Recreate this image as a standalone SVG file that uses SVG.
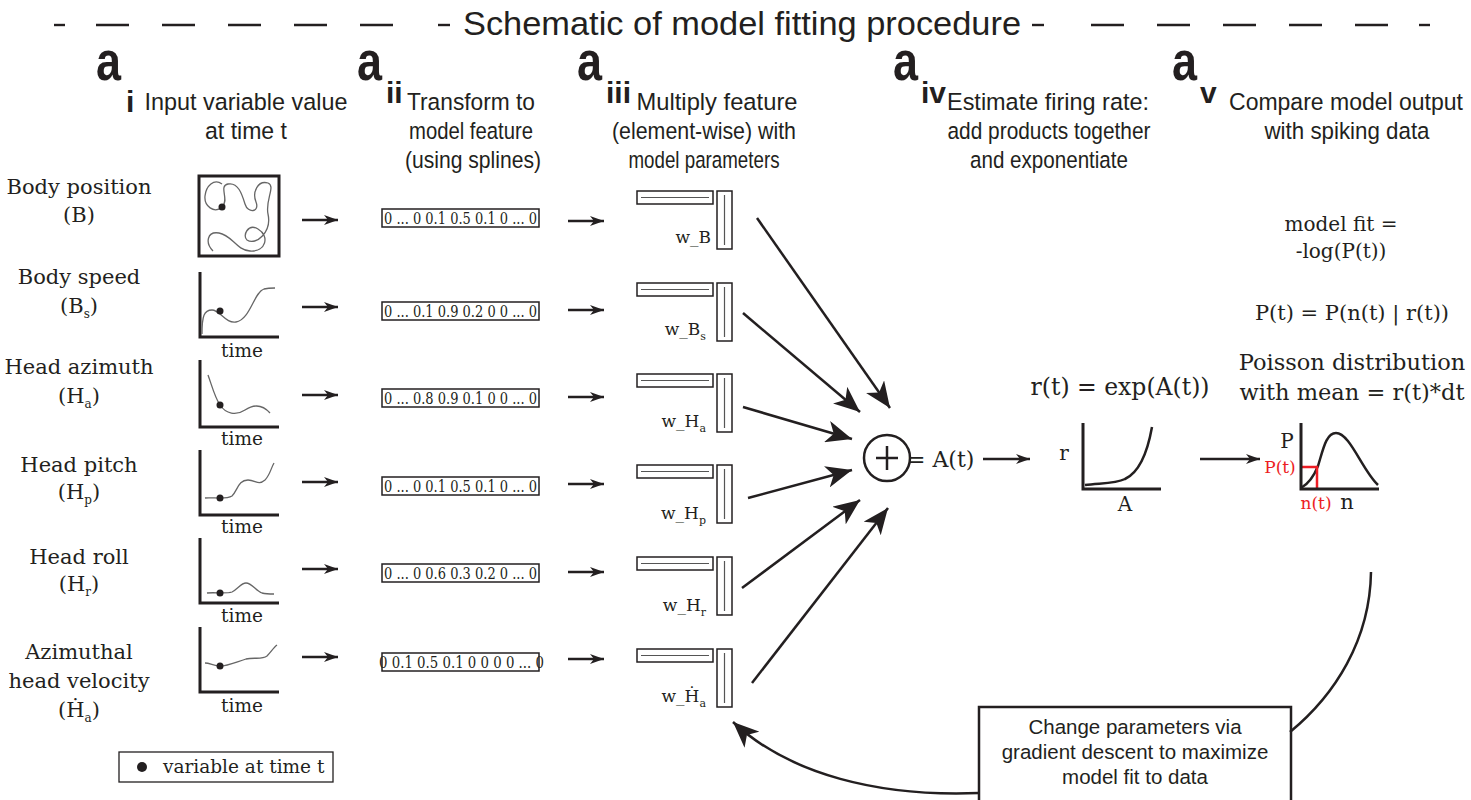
<svg xmlns="http://www.w3.org/2000/svg" width="1471" height="800" viewBox="0 0 1471 800">
<defs>
<style>
.sans{font-family:"Liberation Sans",Arial,sans-serif;fill:#231f20}
.serif{font-family:"DejaVu Serif","Liberation Serif",serif;fill:#231f20}
.hd{font-size:24.5px;text-anchor:middle}
.lab{font-size:21px;text-anchor:middle}
.tm{font-size:18.5px;text-anchor:middle}
.vec{font-size:17px}
.wl{font-size:17px;text-anchor:end}
.big{font-weight:bold;font-size:56px}
.sub{font-weight:bold;font-size:30px}
.dash{stroke:#231f20;stroke-width:2.4}
.ln{stroke:#231f20;stroke-width:2.5;fill:none}
.ax{stroke:#231f20;stroke-width:3;fill:none}
.cv{stroke:#666;stroke-width:1.3;fill:none}
.bx{fill:#fff;stroke:#231f20;stroke-width:1.5}
.il{stroke:#555;stroke-width:1.2}
.red{fill:#ed1c24}
.fb{font-size:20.5px;text-anchor:middle}
</style>
<marker id="ahs" viewBox="0 0 14 10" refX="14" refY="5" markerWidth="14" markerHeight="10" markerUnits="userSpaceOnUse" orient="auto">
<path d="M0,0 L14,5 L0,10 L4,5 Z" fill="#231f20"/>
</marker>
<marker id="ahb" viewBox="0 0 26 22" refX="26" refY="11" markerWidth="26" markerHeight="22" markerUnits="userSpaceOnUse" orient="auto">
<path d="M0,0 L26,11 L0,22 L7,11 Z" fill="#231f20"/>
</marker>
<g id="wbar">
<rect class="bx" x="0" y="0" width="76" height="13"/>
<line class="il" x1="4" y1="6.5" x2="72" y2="6.5"/>
<rect class="bx" x="80" y="0" width="15" height="58"/>
<line class="il" x1="87.5" y1="4" x2="87.5" y2="54"/>
</g>
</defs>
<rect width="1471" height="800" fill="#fff"/>

<g id="title">
<line class="dash" x1="54" y1="25" x2="65" y2="25"/>
<line class="dash" x1="96" y1="25" x2="129" y2="25"/>
<line class="dash" x1="162" y1="25" x2="195" y2="25"/>
<line class="dash" x1="228" y1="25" x2="261" y2="25"/>
<line class="dash" x1="294" y1="25" x2="327" y2="25"/>
<line class="dash" x1="360" y1="25" x2="393" y2="25"/>
<line class="dash" x1="438" y1="25" x2="450" y2="25"/>
<text class="sans" x="742" y="35" font-size="33" text-anchor="middle" textLength="558" lengthAdjust="spacingAndGlyphs">Schematic of model fitting procedure</text>
<line class="dash" x1="1032" y1="25" x2="1044" y2="25"/>
<line class="dash" x1="1091" y1="25" x2="1124" y2="25"/>
<line class="dash" x1="1157" y1="25" x2="1190" y2="25"/>
<line class="dash" x1="1223" y1="25" x2="1256" y2="25"/>
<line class="dash" x1="1289" y1="25" x2="1322" y2="25"/>
<line class="dash" x1="1355" y1="25" x2="1388" y2="25"/>
<line class="dash" x1="1419" y1="25" x2="1430" y2="25"/>
</g>

<g id="head-i">
<text class="sans big" x="96" y="80" textLength="25" lengthAdjust="spacingAndGlyphs">a</text>
<text class="sans sub" x="126" y="112" font-size="34">i</text>
<text class="sans hd" x="246" y="110" textLength="203" lengthAdjust="spacingAndGlyphs">Input variable value</text>
<text class="sans hd" x="246" y="139" textLength="82" lengthAdjust="spacingAndGlyphs">at time t</text>
</g>
<g id="head-ii">
<text class="sans big" x="357" y="80" textLength="25" lengthAdjust="spacingAndGlyphs">a</text>
<text class="sans sub" x="386" y="103">ii</text>
<text class="sans hd" x="471" y="110" textLength="128" lengthAdjust="spacingAndGlyphs">Transform to</text>
<text class="sans hd" x="471" y="139" textLength="124" lengthAdjust="spacingAndGlyphs">model feature</text>
<text class="sans hd" x="473" y="168" textLength="136" lengthAdjust="spacingAndGlyphs">(using splines)</text>
</g>
<g id="head-iii">
<text class="sans big" x="577" y="80" textLength="25" lengthAdjust="spacingAndGlyphs">a</text>
<text class="sans sub" x="606" y="103">iii</text>
<text class="sans hd" x="717" y="110" textLength="161" lengthAdjust="spacingAndGlyphs">Multiply feature</text>
<text class="sans hd" x="704" y="139" textLength="184" lengthAdjust="spacingAndGlyphs">(element-wise) with</text>
<text class="sans hd" x="704" y="168" textLength="151" lengthAdjust="spacingAndGlyphs">model parameters</text>
</g>
<g id="head-iv">
<text class="sans big" x="893" y="80" textLength="25" lengthAdjust="spacingAndGlyphs">a</text>
<text class="sans sub" x="921" y="103">iv</text>
<text class="sans hd" x="1048" y="110" textLength="202" lengthAdjust="spacingAndGlyphs">Estimate firing rate:</text>
<text class="sans hd" x="1049" y="139" textLength="203" lengthAdjust="spacingAndGlyphs">add products together</text>
<text class="sans hd" x="1049" y="168" textLength="158" lengthAdjust="spacingAndGlyphs">and exponentiate</text>
</g>
<g id="head-v">
<text class="sans big" x="1172" y="80" textLength="25" lengthAdjust="spacingAndGlyphs">a</text>
<text class="sans sub" x="1200" y="103">v</text>
<text class="sans" x="1346" y="110" font-size="23" text-anchor="middle">Compare model output</text>
<text class="sans hd" x="1347" y="139" textLength="165" lengthAdjust="spacingAndGlyphs">with spiking data</text>
</g>

<g id="var-B">
<text class="serif lab" x="79" y="194">Body position</text>
<text class="serif lab" x="79" y="222">(B)</text>
<rect x="199" y="176" width="80" height="80" fill="none" stroke="#231f20" stroke-width="3"/>
<path class="cv" d="M213,251 C205,243 207,231 219,233 C232,235 236,250 250,251 C266,252 270,236 258,229 C248,223 242,236 247,240 C256,246 272,232 268,214 C265,200 276,186 268,183 C258,180 252,192 256,202 C260,212 248,214 245,204 C242,194 238,182 228,184 C218,186 230,200 222,207 C214,214 204,206 205,196 C206,186 214,178 222,184"/>
<circle cx="222" cy="207" r="3.5" fill="#231f20"/>
</g>
<g id="var-Bs">
<text class="serif lab" x="79" y="284">Body speed</text>
<text class="serif lab" x="79" y="313">(B<tspan font-size="12" dy="5">s</tspan><tspan dy="-5">)</tspan></text>
<path class="ax" d="M200,272 V337 H279"/>
<path class="cv" d="M202,334 C202,316 204,310 212,310 C220,310 226,324 236,322 C250,320 254,292 264,289 C268,288 272,288 275,288"/>
<circle cx="220" cy="311" r="3.5" fill="#231f20"/>
<text class="serif tm" x="242" y="357">time</text>
</g>
<g id="var-Ha">
<text class="serif lab" x="79" y="374">Head azimuth</text>
<text class="serif lab" x="79" y="403">(H<tspan font-size="12" dy="5">a</tspan><tspan dy="-5">)</tspan></text>
<path class="ax" d="M200,360 V427 H279"/>
<path class="cv" d="M208,375 C212,386 215,398 220,405 C226,414 236,416 245,410 C254,404 262,404 270,413"/>
<circle cx="220" cy="405" r="3.5" fill="#231f20"/>
<text class="serif tm" x="242" y="445">time</text>
</g>
<g id="var-Hp">
<text class="serif lab" x="79" y="472">Head pitch</text>
<text class="serif lab" x="79" y="499">(H<tspan font-size="12" dy="5">p</tspan><tspan dy="-5">)</tspan></text>
<path class="ax" d="M200,450 V515 H279"/>
<path class="cv" d="M205,498 C212,497 226,500 232,496 C238,490 238,480 248,480 C256,480 258,486 265,480 C270,475 271,468 274,463"/>
<circle cx="220" cy="498" r="3.5" fill="#231f20"/>
<text class="serif tm" x="242" y="533">time</text>
</g>
<g id="var-Hr">
<text class="serif lab" x="79" y="564">Head roll</text>
<text class="serif lab" x="79" y="591">(H<tspan font-size="12" dy="5">r</tspan><tspan dy="-5">)</tspan></text>
<path class="ax" d="M200,538 V603 H279"/>
<path class="cv" d="M207,593 C214,592 226,594 232,592 C238,589 241,583 246,583 C252,583 256,591 262,593 C266,594 270,594 274,594"/>
<circle cx="220" cy="593" r="3.5" fill="#231f20"/>
<text class="serif tm" x="242" y="622">time</text>
</g>
<g id="var-dHa">
<text class="serif lab" x="79" y="659">Azimuthal</text>
<text class="serif lab" x="79" y="688">head velocity</text>
<text class="serif lab" x="79" y="717">(Ḣ<tspan font-size="12" dy="5">a</tspan><tspan dy="-5">)</tspan></text>
<path class="ax" d="M200,627 V692 H279"/>
<path class="cv" d="M205,663 C210,663 214,666 220,666 C228,666 236,662 246,659 C254,657 262,660 267,656 C271,652 274,647 277,645"/>
<circle cx="220" cy="666" r="3.5" fill="#231f20"/>
<text class="serif tm" x="242" y="712">time</text>
</g>
<g id="legend">
<rect x="119" y="752" width="214" height="30" fill="none" stroke="#231f20" stroke-width="1.3"/>
<circle cx="142" cy="767" r="5" fill="#231f20"/>
<text class="serif" x="163" y="773" font-size="18.5">variable at time t</text>
</g>

<g id="features">
<g id="f1"><rect class="bx" x="382" y="209" width="157" height="18"/><text class="serif vec" x="384" y="224" textLength="153" lengthAdjust="spacingAndGlyphs">0 ... 0 0.1 0.5 0.1 0 ... 0</text></g>
<g id="f2"><rect class="bx" x="382" y="302" width="157" height="18"/><text class="serif vec" x="384" y="317" textLength="153" lengthAdjust="spacingAndGlyphs">0 ... 0.1 0.9 0.2 0 0 ... 0</text></g>
<g id="f3"><rect class="bx" x="382" y="389" width="157" height="18"/><text class="serif vec" x="384" y="404" textLength="153" lengthAdjust="spacingAndGlyphs">0 ... 0.8 0.9 0.1 0  0 ... 0</text></g>
<g id="f4"><rect class="bx" x="382" y="477" width="157" height="18"/><text class="serif vec" x="384" y="492" textLength="153" lengthAdjust="spacingAndGlyphs">0 ... 0 0.1 0.5 0.1 0 ... 0</text></g>
<g id="f5"><rect class="bx" x="382" y="564" width="157" height="18"/><text class="serif vec" x="384" y="579" textLength="153" lengthAdjust="spacingAndGlyphs">0 ... 0 0.6 0.3 0.2 0 ... 0</text></g>
<g id="f6"><rect class="bx" x="382" y="653" width="157" height="18"/><text class="serif vec" x="379" y="668" textLength="165" lengthAdjust="spacingAndGlyphs">0 0.1 0.5 0.1 0 0 0 0 ... 0</text></g>
</g>

<g id="weights">
<g id="w1"><use href="#wbar" x="637" y="191"/><text class="serif wl" x="711" y="243">w_B</text></g>
<g id="w2"><use href="#wbar" x="637" y="283"/><text class="serif wl" x="706" y="335">w_B<tspan font-size="11" dy="5">s</tspan></text></g>
<g id="w3"><use href="#wbar" x="637" y="374"/><text class="serif wl" x="706" y="427">w_H<tspan font-size="11" dy="5">a</tspan></text></g>
<g id="w4"><use href="#wbar" x="637" y="465"/><text class="serif wl" x="706" y="519">w_H<tspan font-size="11" dy="5">p</tspan></text></g>
<g id="w5"><use href="#wbar" x="637" y="557"/><text class="serif wl" x="706" y="611">w_H<tspan font-size="11" dy="5">r</tspan></text></g>
<g id="w6"><use href="#wbar" x="637" y="649"/><text class="serif wl" x="706" y="702">w_Ḣ<tspan font-size="11" dy="5">a</tspan></text></g>
</g>

<g id="sum">
<circle cx="887" cy="458" r="23" fill="none" stroke="#231f20" stroke-width="2.5"/>
<line class="ln" x1="876" y1="458" x2="898" y2="458"/>
<line class="ln" x1="887" y1="446" x2="887" y2="470"/>
<text class="serif" x="907" y="467" font-size="22">= A(t)</text>
</g>

<g id="rate">
<text class="serif" x="1120" y="395" font-size="23.5" text-anchor="middle">r(t) = exp(A(t))</text>
<text class="serif" x="1064" y="460" font-size="20" text-anchor="middle">r</text>
<path class="ax" d="M1083,423 V489 H1161"/>
<path d="M1085,485 C1100,483 1115,484 1125,479 C1138,473 1147,455 1152,427" fill="none" stroke="#231f20" stroke-width="2.5"/>
<text class="serif" x="1125" y="511" font-size="20" text-anchor="middle">A</text>
</g>

<g id="poisson">
<text class="serif" x="1341" y="231" font-size="20" text-anchor="middle">model fit =</text>
<text class="serif" x="1341" y="258" font-size="20" text-anchor="middle">-log(P(t))</text>
<text class="serif" x="1352" y="320" font-size="21" text-anchor="middle">P(t) = P(n(t) | r(t))</text>
<text class="serif" x="1352" y="370" font-size="22.5" text-anchor="middle">Poisson distribution</text>
<text class="serif" x="1352" y="400" font-size="22.5" text-anchor="middle">with mean = r(t)*dt</text>
<text class="serif" x="1287" y="448" font-size="20" text-anchor="middle">P</text>
<path d="M1301,488 C1308,484 1314,476 1318,466 C1323,450 1326,433 1336,433 C1350,433 1362,470 1378,485" fill="none" stroke="#231f20" stroke-width="2.5"/>
<path d="M1301,467 H1317 V489" fill="none" stroke="#ed1c24" stroke-width="2.5"/>
<path class="ax" d="M1301,423 V489 H1379"/>
<text class="serif red" x="1280" y="473" font-size="17" text-anchor="middle">P(t)</text>
<text class="serif red" x="1316" y="509" font-size="17" text-anchor="middle">n(t)</text>
<text class="serif" x="1347" y="509" font-size="21" text-anchor="middle">n</text>
</g>

<g id="update">
<rect x="979" y="707" width="312" height="100" fill="#fff" stroke="#231f20" stroke-width="2.5"/>
<text class="sans fb" x="1135" y="734">Change parameters via</text>
<text class="sans fb" x="1135" y="759">gradient descent to maximize</text>
<text class="sans fb" x="1135" y="784">model fit to data</text>
</g>

<g id="connectors">
<line class="ln" x1="302" y1="220" x2="338" y2="220" marker-end="url(#ahs)"/>
<line class="ln" x1="302" y1="307" x2="338" y2="307" marker-end="url(#ahs)"/>
<line class="ln" x1="302" y1="395" x2="338" y2="395" marker-end="url(#ahs)"/>
<line class="ln" x1="302" y1="482" x2="338" y2="482" marker-end="url(#ahs)"/>
<line class="ln" x1="302" y1="569" x2="338" y2="569" marker-end="url(#ahs)"/>
<line class="ln" x1="302" y1="657" x2="338" y2="657" marker-end="url(#ahs)"/>
<line class="ln" x1="568" y1="221" x2="604" y2="221" marker-end="url(#ahs)"/>
<line class="ln" x1="568" y1="310" x2="604" y2="310" marker-end="url(#ahs)"/>
<line class="ln" x1="568" y1="397" x2="604" y2="397" marker-end="url(#ahs)"/>
<line class="ln" x1="568" y1="484" x2="604" y2="484" marker-end="url(#ahs)"/>
<line class="ln" x1="568" y1="572" x2="604" y2="572" marker-end="url(#ahs)"/>
<line class="ln" x1="568" y1="659" x2="604" y2="659" marker-end="url(#ahs)"/>
<line class="ln" x1="757" y1="218" x2="890" y2="408" marker-end="url(#ahb)"/>
<line class="ln" x1="743" y1="313" x2="860" y2="412" marker-end="url(#ahb)"/>
<line class="ln" x1="743" y1="407" x2="852" y2="439" marker-end="url(#ahb)"/>
<line class="ln" x1="748" y1="498" x2="852" y2="470" marker-end="url(#ahb)"/>
<line class="ln" x1="742" y1="588" x2="860" y2="500" marker-end="url(#ahb)"/>
<line class="ln" x1="752" y1="683" x2="888" y2="508" marker-end="url(#ahb)"/>
<line class="ln" x1="983" y1="459" x2="1030" y2="459" marker-end="url(#ahs)"/>
<line class="ln" x1="1200" y1="459" x2="1260" y2="459" marker-end="url(#ahs)"/>
<path class="ln" d="M1371,572 C1370,640 1335,695 1290,732"/>
<path class="ln" d="M979,793 C880,797 790,775 733,722" marker-end="url(#ahb)"/>
</g>
</svg>
